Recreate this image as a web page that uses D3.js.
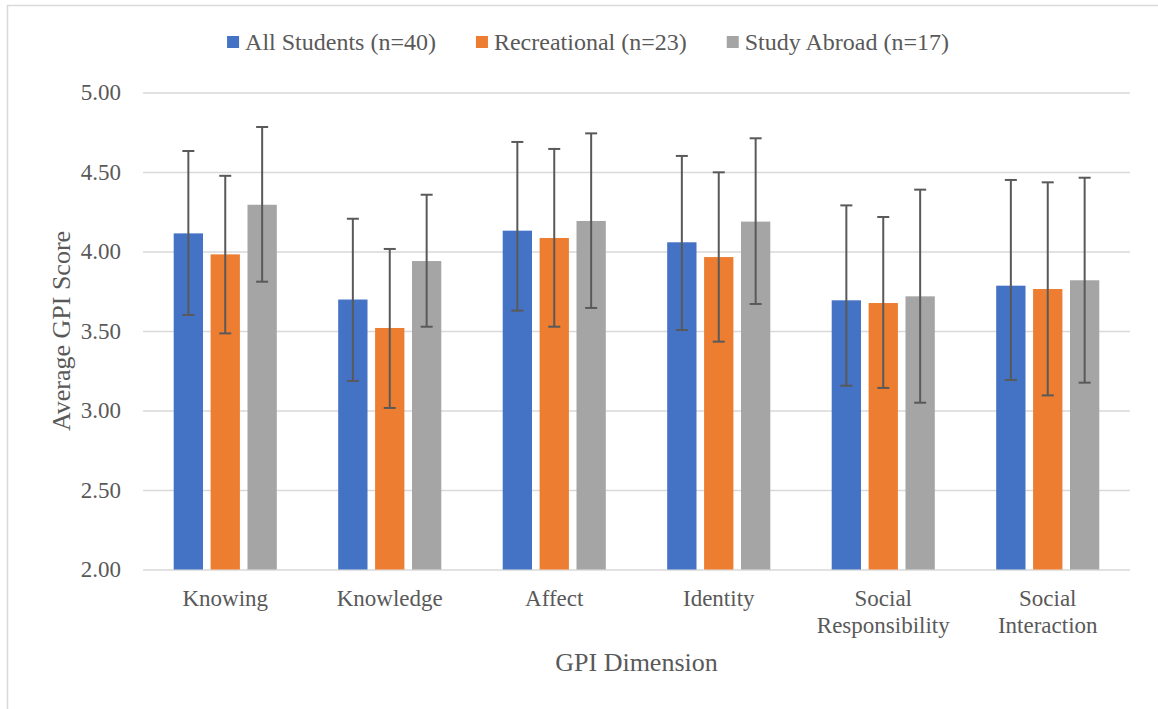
<!DOCTYPE html>
<html lang="en">
<head>
  <meta charset="UTF-8">
  <title>Average GPI Score by Dimension</title>
  <script src="https://d3js.org/d3.v7.min.js"></script>
  <style>
    body {
      margin: 0;
      background: #ffffff;
    }
    svg {
      display: block;
    }
    svg text {
      font-family: "Liberation Serif", "Times New Roman", serif;
    }
  </style>
</head>
<body>
  <svg id="chart" width="1158" height="709"></svg>

  <script>
    // Data.
    const categories = ["Knowing", "Knowledge", "Affect", "Identity", "Social Responsibility", "Social Interaction"];
    const seriesNames = ["All Students (n=40)", "Recreational (n=23)", "Study Abroad (n=17)"];
    const seriesColors = ["#4472C4", "#ED7D31", "#A5A5A5"];

    const allStudents     = [4.114, 3.698, 4.131, 4.058, 3.693, 3.785];
    const allStudentsHigh = [4.632, 4.206, 4.689, 4.601, 4.290, 4.450];
    const allStudentsLow  = [3.601, 3.186, 3.628, 3.506, 3.156, 3.192];

    const recreational     = [3.982, 3.519, 4.085, 3.965, 3.676, 3.764];
    const recreationalHigh = [4.476, 4.016, 4.645, 4.498, 4.217, 4.435];
    const recreationalLow  = [3.485, 3.016, 3.527, 3.433, 3.142, 3.095];

    const studyAbroad     = [4.294, 3.940, 4.192, 4.188, 3.718, 3.819];
    const studyAbroadHigh = [4.783, 4.357, 4.743, 4.712, 4.389, 4.464];
    const studyAbroadLow  = [3.810, 3.527, 3.645, 3.670, 3.049, 3.175];

    const yTicks = [2.0, 2.5, 3.0, 3.5, 4.0, 4.5, 5.0];

    const seriesValues = [allStudents, recreational, studyAbroad];
    const seriesHigh = [allStudentsHigh, recreationalHigh, studyAbroadHigh];
    const seriesLow = [allStudentsLow, recreationalLow, studyAbroadLow];

    // Flatten into one record per bar.
    const bars = [];
    categories.forEach((c, i) => {
      seriesNames.forEach((s, j) => {
        bars.push({ cat: c, series: s, idx: j, value: seriesValues[j][i], hi: seriesHigh[j][i], lo: seriesLow[j][i] });
      });
    });

    const serif = "'Liberation Serif', 'Times New Roman', serif";
    const svg = d3.select("#chart");
    const textColor = "#595959";
    const gridColor = "#d9d9d9";

    // Chart frame.
    svg.append("rect")
      .attr("x", 7.5).attr("y", 5.5)
      .attr("width", 1170).attr("height", 720)
      .attr("fill", "none")
      .attr("stroke", gridColor)
      .attr("stroke-width", 1.5);

    const plot = { left: 143, right: 1130, top: 92.5, bottom: 569.5 };

    const x0 = d3.scaleBand().domain(categories).range([plot.left, plot.right]).padding(0);
    const x1 = d3.scaleBand().domain(seriesNames).range([0, x0.bandwidth()])
      .paddingInner(0.206).paddingOuter(0.832);
    const y = d3.scaleLinear().domain([2, 5]).range([plot.bottom, plot.top]);
    const color = d3.scaleOrdinal().domain(seriesNames).range(seriesColors);

    // Y axis with gridlines.
    const yAxis = svg.append("g")
      .attr("transform", `translate(${plot.left},0)`)
      .call(d3.axisLeft(y).tickValues(yTicks).tickFormat(d3.format(".2f"))
        .tickSize(-(plot.right - plot.left)).tickPadding(22))
      .attr("font-family", serif)
      .attr("font-size", 23);
    yAxis.select(".domain").remove();
    yAxis.selectAll(".tick line").attr("stroke", gridColor).attr("stroke-width", 1.5);
    yAxis.selectAll(".tick text").attr("fill", textColor);

    // Bars.
    svg.append("g").selectAll("rect")
      .data(bars)
      .join("rect")
      .attr("x", d => x0(d.cat) + x1(d.series))
      .attr("y", d => y(d.value))
      .attr("width", x1.bandwidth())
      .attr("height", d => y(2) - y(d.value))
      .attr("fill", d => color(d.series));

    // Error bars.
    const capHalf = 6;
    const err = svg.append("g").selectAll("g")
      .data(bars)
      .join("g")
      .attr("transform", d => `translate(${x0(d.cat) + x1(d.series) + x1.bandwidth() / 2},0)`)
      .attr("stroke", "#595959")
      .attr("stroke-width", 2);
    err.append("line").attr("x1", 0).attr("x2", 0).attr("y1", d => y(d.hi)).attr("y2", d => y(d.lo));
    err.append("line").attr("x1", -capHalf).attr("x2", capHalf).attr("y1", d => y(d.hi)).attr("y2", d => y(d.hi));
    err.append("line").attr("x1", -capHalf).attr("x2", capHalf).attr("y1", d => y(d.lo)).attr("y2", d => y(d.lo));

    // Category axis (labels wrap on spaces).
    const xAxis = svg.append("g")
      .attr("transform", `translate(0,${plot.bottom})`)
      .call(d3.axisBottom(x0).tickSize(0).tickPadding(0))
      .attr("font-family", serif)
      .attr("font-size", 23);
    xAxis.select(".domain").remove();
    xAxis.selectAll(".tick text")
      .attr("fill", textColor)
      .attr("y", 36)
      .attr("dy", null)
      .each(function(d) {
        const t = d3.select(this);
        const words = d.split(" ");
        t.text(null);
        words.forEach((w, k) => {
          t.append("tspan").attr("x", 0).attr("y", 36 + k * 27).text(w);
        });
      });

    // Axis titles.
    svg.append("text")
      .attr("x", (plot.left + plot.right) / 2)
      .attr("y", 671)
      .attr("text-anchor", "middle")
      .attr("fill", textColor)
      .attr("font-family", serif)
      .attr("font-size", 26)
      .text("GPI Dimension");

    svg.append("text")
      .attr("transform", `translate(70,${(plot.top + plot.bottom) / 2}) rotate(-90)`)
      .attr("text-anchor", "middle")
      .attr("fill", textColor)
      .attr("font-family", serif)
      .attr("font-size", 26)
      .text("Average GPI Score");

    // Legend, centred in the chart frame.
    const legend = svg.append("g").attr("font-family", serif).attr("font-size", 24);
    let lx = 0;
    seriesNames.forEach((s, j) => {
      const item = legend.append("g").attr("transform", `translate(${lx},0)`);
      item.append("rect").attr("x", 0).attr("y", -6).attr("width", 12).attr("height", 12).attr("fill", seriesColors[j]);
      const txt = item.append("text")
        .attr("x", 18).attr("y", 8)
        .attr("fill", textColor)
        .text(s);
      lx += 18 + txt.node().getComputedTextLength() + 40;
    });
    const legendWidth = lx - 40;
    legend.attr("transform", `translate(${588 - legendWidth / 2},42)`);
  </script>
</body>
</html>
